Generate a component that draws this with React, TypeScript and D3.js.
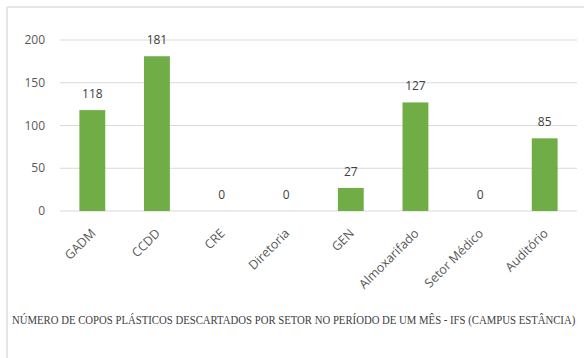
import { useEffect, useRef } from 'react'
import * as d3 from 'd3'

const categories = ['GADM', 'CCDD', 'CRE', 'Diretoria', 'GEN', 'Almoxarifado', 'Setor Médico', 'Auditório']
const values = [118, 181, 0, 0, 27, 127, 0, 85]
const yTicks = [0, 50, 100, 150, 200]
const title = 'NÚMERO DE COPOS PLÁSTICOS DESCARTADOS POR SETOR NO PERÍODO DE UM MÊS - IFS (CAMPUS ESTÂNCIA)'

export default function App() {
  const svgRef = useRef<SVGSVGElement>(null)

  useEffect(() => {
    if (!svgRef.current) return
    const width = 584
    const height = 358
    const svg = d3.select(svgRef.current)
    svg.selectAll('*').remove()

    const font = "'Open Sans', 'Liberation Sans', sans-serif"

    // moldura (só topo e esquerda visíveis)
    svg.append('line').attr('x1', 7).attr('x2', width).attr('y1', 7).attr('y2', 7)
      .attr('stroke', '#dcdcdc').attr('stroke-width', 1.5)
    svg.append('line').attr('x1', 7).attr('x2', 7).attr('y1', 7).attr('y2', height)
      .attr('stroke', '#dcdcdc').attr('stroke-width', 1.5)

    const x = d3.scaleBand().domain(categories).range([60, 577]).paddingInner(0.6).paddingOuter(0.3)
    const y = d3.scaleLinear().domain([0, 200]).range([211, 40])

    // grade
    svg.append('g').selectAll('line').data(yTicks).enter().append('line')
      .attr('x1', 60).attr('x2', 577)
      .attr('y1', d => y(d)).attr('y2', d => y(d))
      .attr('stroke', '#d9d9d9').attr('stroke-width', 1)

    svg.append('g').selectAll('text').data(yTicks).enter().append('text')
      .attr('x', 45).attr('y', d => y(d)).attr('dy', '0.35em')
      .attr('text-anchor', 'end')
      .attr('font-family', font).attr('font-size', 12).attr('fill', '#595959')
      .text(d => d)

    // barras
    svg.append('g').selectAll('rect').data(values).enter().append('rect')
      .attr('x', (d, i) => x(categories[i])!)
      .attr('width', x.bandwidth())
      .attr('y', d => y(d))
      .attr('height', d => y(0) - y(d))
      .attr('fill', '#70ad47')

    // rótulos de valor
    svg.append('g').selectAll('text').data(values).enter().append('text')
      .attr('x', (d, i) => x(categories[i])! + x.bandwidth() / 2)
      .attr('y', d => y(d) - 12)
      .attr('text-anchor', 'middle')
      .attr('font-family', font).attr('font-size', 12).attr('fill', '#404040')
      .text(d => d)

    // rótulos do eixo x
    svg.append('g').selectAll('text').data(categories).enter().append('text')
      .attr('transform', d => `translate(${x(d)! + x.bandwidth() / 2 + 1},${231}) rotate(-45)`)
      .attr('text-anchor', 'end')
      .attr('dy', '0.35em')
      .attr('font-family', font).attr('font-size', 12.5).attr('fill', '#595959')
      .text(d => d)

    // título, comprimido na horizontal para caber
    const titleG = svg.append('g')
    const titleText = titleG.append('text')
      .attr('x', 0).attr('y', 0)
      .attr('font-family', "'Liberation Serif', 'Times New Roman', serif")
      .attr('font-size', 12.5).attr('fill', '#404040')
      .text(title)
    const natural = (titleText.node() as SVGTextElement).getComputedTextLength() || 566
    titleG.attr('transform', `translate(12,324) scale(${564 / natural},1)`)
  }, [])

  return (
    <svg ref={svgRef} width={584} height={358}
      style={{ position: 'absolute', left: 0, top: 0, background: '#fff' }} />
  )
}
